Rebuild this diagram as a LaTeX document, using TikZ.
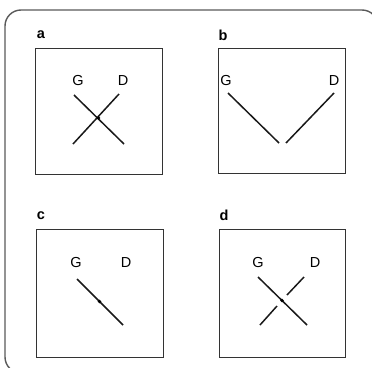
\documentclass[tikz,border=0pt]{standalone}
\usepackage{fontspec}
\setmainfont{Liberation Sans}

\begin{document}
\begin{tikzpicture}[x=1pt,y=-1pt]
    \tikzset{panel/.style = {draw=black!80,line width=0.8pt}}
    \tikzset{pin/.style = {shape=rectangle,draw=none,inner sep=0pt,font=\fontsize{14.5}{15}\selectfont}}
    \tikzset{tag/.style = {shape=rectangle,draw=none,inner sep=0pt,font=\fontsize{14.5}{15}\selectfont\bfseries}}
    \tikzset{wire/.style = {-,line width=1.5pt,black!90}}
    \tikzset{spot/.style = {shape=circle,fill=black,inner sep=0pt,minimum size=3.8pt}}

    \useasboundingbox (0,0) rectangle (372,367);
    \draw[black!65,line width=1.4pt,rounded corners=16pt] (5,10) rectangle (378,373);

    % panel a
    \node[tag] (la) at (41,35) {a};
    \draw[panel] (35,48) rectangle (162,174);
    \node[pin] (ga) at (78,81) {G};
    \node[pin] (da) at (123,81) {D};
    \coordinate (a1) at (74,95);
    \coordinate (a2) at (124,144);
    \coordinate (a3) at (119,94);
    \coordinate (a4) at (73,144);
    \draw[wire] (a1) to (a2);
    \draw[wire] (a3) to (a4);
    \node[spot] (xa) at (98.5,118) {};

    % panel b
    \node[tag] (lb) at (223,35) {b};
    \draw[panel] (218,48) rectangle (345,173);
    \node[pin] (gb) at (226,81) {G};
    \node[pin] (db) at (334,81) {D};
    \coordinate (b1) at (228,93);
    \coordinate (b2) at (279,143);
    \coordinate (b3) at (334,93);
    \coordinate (b4) at (286,143);
    \draw[wire] (b1) to (b2);
    \draw[wire] (b3) to (b4);

    % panel c
    \node[tag] (lc) at (41,216) {c};
    \draw[panel] (36,229) rectangle (163,357);
    \node[pin] (gc) at (76,263) {G};
    \node[pin] (dc) at (126,263) {D};
    \coordinate (c1) at (77,279);
    \coordinate (c2) at (123,325);
    \draw[wire] (c1) to (c2);
    \node[spot] (xc) at (99.5,301.5) {};

    % panel d
    \node[tag] (ld) at (224,215) {d};
    \draw[panel] (219,229) rectangle (345,357);
    \node[pin] (gd) at (258,263) {G};
    \node[pin] (dd) at (315,263) {D};
    \coordinate (d1) at (258,277);
    \coordinate (d2) at (307,325);
    \coordinate (d3) at (304,277);
    \coordinate (d4) at (287,295);
    \coordinate (d5) at (277,306);
    \coordinate (d6) at (260,325);
    \draw[wire] (d1) to (d2);
    \draw[wire] (d3) to (d4);
    \draw[wire] (d5) to (d6);
    \node[spot] (xd) at (282,300.5) {};
\end{tikzpicture}
\end{document}
